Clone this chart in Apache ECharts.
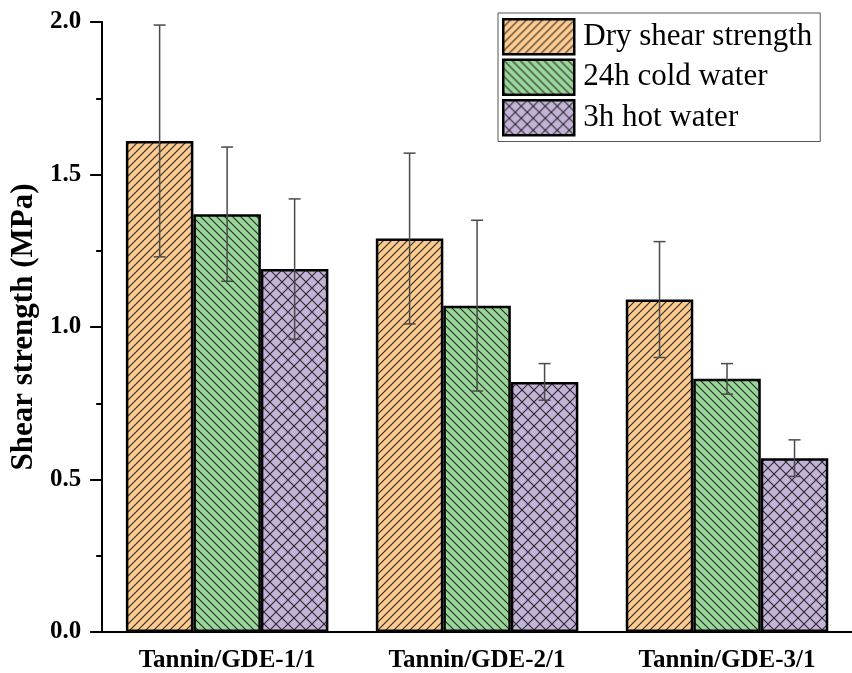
<!DOCTYPE html>
<html><head><meta charset="utf-8">
<script src="https://cdn.jsdelivr.net/npm/echarts@6/dist/echarts.min.js"></script>
<style>html,body{margin:0;padding:0;background:#fff}#c{width:852px;height:673px}</style>
</head><body><div id="c"></div>
<script>
const categories = ['Tannin/GDE-1/1', 'Tannin/GDE-2/1', 'Tannin/GDE-3/1'];
const seriesNames = ['Dry shear strength', '24h cold water', '3h hot water'];
const dryValues = [1.61, 1.29, 1.09];
const dryErrors = [0.38, 0.28, 0.19];
const coldValues = [1.37, 1.07, 0.83];
const coldErrors = [0.22, 0.28, 0.05];
const hotValues = [1.19, 0.82, 0.57];
const hotErrors = [0.23, 0.06, 0.06];
const yTicks = [0, 0.5, 1.0, 1.5, 2.0];

const values = [dryValues, coldValues, hotValues];
const errors = [dryErrors, coldErrors, hotErrors];

function hatch(bg, type, s) {
  const c = document.createElement('canvas');
  c.width = s; c.height = s;
  const g = c.getContext('2d');
  g.fillStyle = bg; g.fillRect(0, 0, s, s);
  g.strokeStyle = '#2a2a2a'; g.lineWidth = 1.1;
  const fwd = () => {
    g.beginPath();
    g.moveTo(-1, s + 1); g.lineTo(s + 1, -1);
    g.moveTo(-1, 1); g.lineTo(1, -1);
    g.moveTo(s - 1, s + 1); g.lineTo(s + 1, s - 1);
    g.stroke();
  };
  const back = () => {
    g.beginPath();
    g.moveTo(-1, -1); g.lineTo(s + 1, s + 1);
    g.moveTo(-1, s - 1); g.lineTo(1, s + 1);
    g.moveTo(s - 1, -1); g.lineTo(s + 1, 1);
    g.stroke();
  };
  if (type === '/' || type === 'x') fwd();
  if (type === '\\' || type === 'x') back();
  return { image: c, repeat: 'repeat' };
}
const fills = [hatch('#fecb8e', '/', 8), hatch('#99d699', '\\', 8), hatch('#c3b3d9', 'x', 12)];

const BAR_W = 67.5;
const font = 'Liberation Serif';

const barSeries = seriesNames.map((name, i) => ({
  name: name,
  type: 'bar',
  data: values[i],
  barWidth: BAR_W,
  barGap: '0%',
  itemStyle: { color: fills[i], borderColor: '#000', borderWidth: 2.5 },
  z: 2
}));

const errData = [];
for (let s = 0; s < 3; s++) {
  for (let k = 0; k < categories.length; k++) {
    errData.push([k, values[s][k], errors[s][k], s]);
  }
}

const errSeries = {
  type: 'custom',
  name: 'err',
  data: errData,
  z: 5,
  silent: true,
  renderItem: function (params, api) {
    const k = api.value(0), v = api.value(1), e = api.value(2), s = api.value(3);
    const off = (s - 1) * BAR_W;
    const top = api.coord([k, v + e]);
    const bot = api.coord([k, v - e]);
    const x = top[0] + off;
    const cap = 6;
    const st = { stroke: '#4a4a4a', lineWidth: 1.5 };
    return {
      type: 'group',
      children: [
        { type: 'line', shape: { x1: x, y1: top[1], x2: x, y2: bot[1] }, style: st },
        { type: 'line', shape: { x1: x - cap, y1: top[1], x2: x + cap, y2: top[1] }, style: st },
        { type: 'line', shape: { x1: x - cap, y1: bot[1], x2: x + cap, y2: bot[1] }, style: st }
      ]
    };
  }
};

const chart = echarts.init(document.getElementById('c'), null, { renderer: 'canvas' });
chart.setOption({
  animation: false,
  backgroundColor: '#fff',
  grid: { left: 100, top: 22, width: 757, bottom: 41, containLabel: false },
  legend: {
    data: seriesNames,
    orient: 'vertical',
    left: 498,
    top: 13,
    itemWidth: 71,
    itemHeight: 35,
    itemGap: 3,
    padding: [5, 8, 5, 4],
    borderColor: '#555',
    borderWidth: 1,
    icon: 'rect',
    itemStyle: { borderColor: '#000', borderWidth: 2.5 },
    textStyle: { fontFamily: font, fontSize: 31, color: '#000', lineHeight: 33, padding: [0, 0, 0, 4] }
  },
  xAxis: {
    type: 'category',
    data: categories,
    axisLine: { lineStyle: { color: '#000', width: 2 } },
    axisTick: { show: false },
    axisLabel: { fontFamily: font, fontWeight: 'bold', fontSize: 25, color: '#000', margin: 16 }
  },
  yAxis: {
    type: 'value',
    min: 0, max: 2, interval: 0.5,
    name: 'Shear strength (MPa)',
    nameLocation: 'middle',
    nameGap: 60,
    nameTextStyle: { fontFamily: font, fontWeight: 'bold', fontSize: 31, color: '#000' },
    axisLine: { show: true, lineStyle: { color: '#000', width: 2 } },
    axisTick: { show: true, length: 12, lineStyle: { color: '#000', width: 2 } },
    minorTick: { show: true, splitNumber: 2, length: 6, lineStyle: { color: '#000', width: 2 } },
    splitLine: { show: false },
    axisLabel: {
      fontFamily: font, fontWeight: 'bold', fontSize: 25, color: '#000', margin: 21,
      formatter: function (v) { return yTicks.indexOf(v) >= 0 ? v.toFixed(1) : ''; }
    }
  },
  series: barSeries.concat([errSeries])
});
</script></body></html>
